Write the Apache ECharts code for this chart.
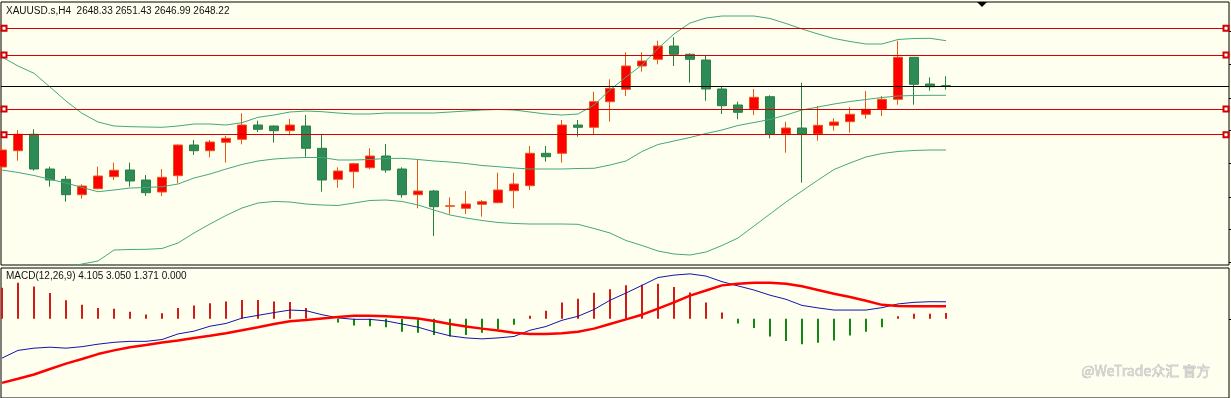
<!DOCTYPE html>
<html>
<head>
<meta charset="utf-8">
<script src="https://cdn.jsdelivr.net/npm/echarts@6/dist/echarts.min.js"></script>
<style>
  html, body { margin: 0; padding: 0; background: #fffff0; }
  #chart { width: 1231px; height: 398px; }
</style>
</head>
<body>
<div id="chart"></div>
<script>
// XAUUSD H4, one bar per 4 hours, oldest first
const openPx = [2621.49, 2626.87, 2632.28, 2620.83, 2617.43, 2612.35, 2614.33, 2618.29, 2620.50, 2617.20,
  2613.24, 2618.62, 2628.75, 2626.87, 2629.64, 2630.63, 2635.35, 2635.02, 2633.47, 2635.02,
  2627.66, 2617.43, 2619.94, 2621.26, 2625.12, 2620.83, 2612.35, 2613.57, 2608.55, 2607.86,
  2609.18, 2609.71, 2613.67, 2615.32, 2626.01, 2626.01, 2635.35, 2634.59, 2643.04, 2647.13,
  2654.82, 2657.03, 2661.42, 2658.68, 2656.80, 2647.23, 2641.95, 2640.53, 2644.69, 2632.38,
  2634.36, 2632.38, 2635.25, 2636.44, 2638.88, 2640.53, 2643.83, 2657.69, 2648.88, 2648.33]
const closePx = [2627.10, 2632.28, 2620.83, 2617.20, 2612.35, 2615.22, 2618.52, 2620.40, 2616.87, 2613.01,
  2618.09, 2628.75, 2626.87, 2629.74, 2630.96, 2635.35, 2633.93, 2633.47, 2635.35, 2627.66,
  2617.20, 2620.17, 2622.58, 2625.12, 2620.50, 2612.35, 2613.57, 2608.39, 2608.69, 2609.28,
  2610.04, 2613.90, 2615.88, 2626.01, 2624.89, 2635.35, 2634.59, 2643.04, 2647.46, 2654.82,
  2656.47, 2661.42, 2658.68, 2657.03, 2647.23, 2641.72, 2639.54, 2644.49, 2632.38, 2634.36,
  2632.38, 2635.25, 2636.34, 2638.88, 2640.53, 2643.83, 2657.69, 2648.78, 2647.99, 2648.22]
const lowPx = [2619.51, 2623.57, 2620.27, 2614.99, 2610.04, 2611.03, 2614.07, 2617.20, 2614.99, 2611.92,
  2611.92, 2616.11, 2625.45, 2624.69, 2622.91, 2628.98, 2633.04, 2629.51, 2631.95, 2624.89,
  2613.34, 2614.66, 2614.46, 2620.73, 2619.61, 2611.36, 2607.86, 2598.72, 2605.98, 2605.98,
  2605.09, 2609.51, 2607.86, 2613.90, 2623.24, 2622.91, 2631.49, 2632.05, 2636.44, 2644.92,
  2652.94, 2655.38, 2654.82, 2649.31, 2643.37, 2638.98, 2637.23, 2638.65, 2630.96, 2626.21,
  2616.31, 2630.17, 2633.47, 2632.81, 2637.43, 2638.32, 2642.05, 2642.05, 2646.67, 2646.99]
const highPx = [2628.75, 2633.70, 2633.93, 2621.59, 2618.52, 2615.78, 2621.59, 2622.91, 2622.91, 2618.85,
  2620.83, 2628.92, 2630.40, 2630.40, 2631.72, 2639.21, 2636.77, 2635.19, 2637.33, 2638.65,
  2632.38, 2621.39, 2622.91, 2627.66, 2629.08, 2621.39, 2624.03, 2613.90, 2611.49, 2613.57,
  2610.60, 2619.61, 2619.61, 2628.42, 2628.42, 2637.00, 2637.00, 2646.34, 2650.43, 2659.34,
  2659.34, 2663.17, 2664.29, 2659.01, 2658.12, 2647.99, 2643.04, 2647.23, 2645.15, 2636.44,
  2649.31, 2641.62, 2637.56, 2641.19, 2646.57, 2644.92, 2663.17, 2657.69, 2651.09, 2651.43]

// bollinger bands
const bbUpper = [2657.79, 2654.82, 2652.41, 2647.89, 2643.27, 2639.21, 2636.34, 2635.02, 2634.79, 2634.69,
  2634.59, 2635.02, 2635.68, 2635.68, 2635.35, 2636.11, 2637.89, 2638.65, 2639.64, 2639.97,
  2639.74, 2639.31, 2638.98, 2638.98, 2639.31, 2639.31, 2639.31, 2639.31, 2639.64, 2639.97,
  2640.30, 2640.47, 2640.30, 2639.64, 2638.98, 2638.65, 2638.98, 2641.95, 2646.90, 2651.19,
  2655.15, 2660.60, 2665.38, 2669.01, 2670.66, 2671.32, 2671.32, 2671.32, 2670.50, 2668.85,
  2667.03, 2665.38, 2663.90, 2662.91, 2662.08, 2662.08, 2663.57, 2663.90, 2663.96, 2663.17]
const bbMiddle = [2620.50, 2619.68, 2618.69, 2617.43, 2616.21, 2614.73, 2613.34, 2613.90, 2614.56, 2614.73,
  2614.99, 2615.88, 2617.86, 2619.18, 2620.83, 2622.32, 2623.47, 2624.13, 2624.46, 2624.63,
  2624.63, 2623.80, 2623.80, 2623.97, 2624.30, 2624.36, 2623.97, 2623.47, 2623.14, 2622.65,
  2621.99, 2621.59, 2621.16, 2620.83, 2620.83, 2620.83, 2621.00, 2621.06, 2622.15, 2623.47,
  2626.61, 2628.92, 2630.07, 2631.23, 2632.55, 2633.70, 2635.19, 2636.18, 2637.17, 2638.65,
  2640.30, 2641.29, 2642.28, 2643.11, 2643.77, 2644.43, 2644.92, 2645.09, 2645.15, 2645.15]
const bbLower = [2583.21, 2584.53, 2585.52, 2586.84, 2588.16, 2589.48, 2590.47, 2594.10, 2594.27, 2594.33,
  2594.60, 2596.41, 2599.71, 2602.68, 2605.49, 2607.96, 2609.61, 2610.11, 2609.94, 2609.28,
  2608.95, 2608.79, 2609.61, 2610.44, 2610.60, 2610.11, 2608.95, 2607.30, 2605.65, 2604.66,
  2603.84, 2603.18, 2602.85, 2602.68, 2602.68, 2602.68, 2602.58, 2601.20, 2599.71, 2597.24,
  2595.59, 2593.77, 2592.78, 2592.45, 2593.44, 2595.59, 2598.06, 2602.02, 2605.98, 2609.94,
  2613.57, 2617.20, 2620.67, 2622.81, 2624.79, 2625.95, 2626.61, 2626.94, 2627.10, 2627.10]

// drawn levels
const redLevels = [2667.26, 2658.45, 2640.63, 2632.15]
const bidLevel = 2648.22
const priceTicks = [2666.37, 2655.48, 2644.26, 2633.70, 2622.81, 2611.59, 2601.03, 2590.14]

// MACD(12,26,9)
const macdMain = [-9.48, -7.62, -7.08, -6.85, -7.08, -6.72, -6.12, -5.67, -5.44, -5.44,
  -5.00, -3.65, -2.98, -1.79, -1.12, 0.16, 0.83, 1.50, 2.11, 1.95,
  0.99, 0.22, -0.13, -0.13, -0.52, -1.25, -2.02, -3.14, -4.10, -4.61,
  -4.84, -4.61, -4.26, -2.76, -1.86, -0.36, 0.61, 2.24, 4.48, 6.21,
  8.06, 9.95, 10.53, 10.84, 10.30, 8.96, 7.93, 6.94, 5.69, 4.70,
  3.23, 2.62, 2.11, 2.11, 2.11, 2.69, 3.58, 3.97, 4.12, 4.105]
const macdSignal = [-15.46, -14.47, -13.44, -12.10, -10.82, -9.70, -8.51, -7.62, -6.85, -6.34,
  -5.73, -5.22, -4.61, -4.10, -3.49, -2.76, -2.02, -1.25, -0.58, -0.29,
  0.09, 0.45, 0.76, 0.76, 0.60, 0.38, 0.09, -0.52, -1.25, -1.86,
  -2.37, -2.82, -3.36, -3.65, -3.65, -3.49, -3.14, -2.37, -1.25, -0.13,
  0.99, 2.46, 3.96, 5.60, 6.81, 8.06, 8.44, 8.67, 8.67, 8.44,
  7.84, 6.94, 6.05, 5.24, 4.35, 3.36, 3.07, 3.05, 3.05, 3.05]
const macdHist = [7.46, 8.67, 7.77, 6.20, 4.48, 3.36, 2.62, 2.40, 1.72, 1.05,
  1.34, 2.62, 3.20, 3.74, 4.19, 4.55, 4.55, 4.19, 4.03, 2.62,
  0, -0.90, -1.64, -1.79, -2.02, -3.14, -3.36, -3.88, -4.26, -3.88,
  -3.36, -2.53, -1.41, 0.74, 1.95, 3.96, 4.86, 6.27, 7.10, 8.06,
  8.22, 8.44, 7.68, 6.34, 3.96, 1.50, -1.12, -2.24, -4.26, -5.38,
  -6.12, -5.76, -5.22, -4.03, -3.14, -2.02, 0.60, 1.19, 1.19, 1.371]

const bg = '#fffff0'
const bandColor = '#45a77c'
const font = 'Liberation Sans'

const myChart = echarts.init(document.getElementById('chart'))

const candleData = openPx.map((o, i) => [i, o, closePx[i], lowPx[i], highPx[i]])
const pair = arr => arr.map((v, i) => [i, v])

const hideAxis = {
  axisLine: { show: false, onZero: false }, axisTick: { show: false },
  axisLabel: { show: false }, splitLine: { show: false }
}

const option = {
  animation: false,
  backgroundColor: bg,
  title: [
    {
      text: 'XAUUSD.s,H4  2648.33 2651.43 2646.99 2648.22',
      left: 6, top: 6, padding: 0,
      textStyle: { fontSize: 10, fontWeight: 'normal', color: '#111', fontFamily: font }
    },
    {
      text: 'MACD(12,26,9) 4.105 3.050 1.371 0.000',
      left: 6, top: 271, padding: 0,
      textStyle: { fontSize: 10, fontWeight: 'normal', color: '#111', fontFamily: font }
    }
  ],
  grid: [
    { left: 1, top: 2, width: 1228, height: 263, show: true, borderColor: '#000', borderWidth: 1, backgroundColor: bg },
    { left: 1, top: 268, width: 1228, height: 140, show: true, borderColor: '#000', borderWidth: 1, backgroundColor: bg }
  ],
  xAxis: [
    Object.assign({ type: 'value', gridIndex: 0, min: -0.0625, max: 76.6875 }, hideAxis),
    Object.assign({ type: 'value', gridIndex: 1, min: -0.0625, max: 76.6875 }, hideAxis)
  ],
  yAxis: [
    {
      type: 'value', gridIndex: 0, position: 'right',
      min: 2589.15, max: 2675.94,
      axisLine: { show: false, onZero: false },
      axisTick: { show: true, inside: false, length: 3, customValues: priceTicks, lineStyle: { color: '#000' } },
      axisLabel: { show: false }, splitLine: { show: false }
    },
    {
      type: 'value', gridIndex: 1, position: 'right',
      min: -19.1, max: 12.25,
      axisLine: { show: false, onZero: false },
      axisTick: { show: true, inside: false, length: 3, customValues: [0], lineStyle: { color: '#000' } },
      axisLabel: { show: false }, splitLine: { show: false }
    }
  ],
  series: [
    {
      name: 'bbUpper', type: 'line', xAxisIndex: 0, yAxisIndex: 0,
      data: pair(bbUpper), symbol: 'none', lineStyle: { color: bandColor, width: 1 }
    },
    {
      name: 'bbMiddle', type: 'line', xAxisIndex: 0, yAxisIndex: 0,
      data: pair(bbMiddle), symbol: 'none', lineStyle: { color: bandColor, width: 1 }
    },
    {
      name: 'bbLower', type: 'line', xAxisIndex: 0, yAxisIndex: 0,
      data: pair(bbLower), symbol: 'none', lineStyle: { color: bandColor, width: 1 }
    },
    {
      name: 'XAUUSD', type: 'candlestick', xAxisIndex: 0, yAxisIndex: 0,
      data: candleData,
      encode: { x: 0, y: [1, 2, 3, 4] },
      barWidth: 10,
      itemStyle: {
        color: '#ff0000', borderColor: '#e8561a',
        color0: '#2e8b57', borderColor0: '#2a8040', borderWidth: 1
      },
      markLine: {
        silent: true, animation: false,
        symbol: ['emptyRect', 'emptyRect'], symbolSize: 5,
        symbolOffset: [[0, 3], [0, 3]],
        label: { show: false },
        lineStyle: { color: '#d40000', width: 1, type: 'solid' },
        data: redLevels.map(v => ({ yAxis: v }))
      }
    },
    {
      name: 'bid', type: 'line', xAxisIndex: 0, yAxisIndex: 0, data: [],
      markLine: {
        silent: true, animation: false, symbol: 'none',
        label: { show: false },
        lineStyle: { color: '#000', width: 1, type: 'solid' },
        data: [{ yAxis: bidLevel }]
      }
    },
    {
      name: 'hist', type: 'bar', xAxisIndex: 1, yAxisIndex: 1,
      data: macdHist.map((v, i) => ({
        value: [i, v],
        itemStyle: { color: v >= 0 ? '#d11a1a' : '#118811' }
      })),
      barWidth: 2
    },
    {
      name: 'macd', type: 'line', xAxisIndex: 1, yAxisIndex: 1,
      data: pair(macdMain), symbol: 'none', lineStyle: { color: '#1414a8', width: 1 }
    },
    {
      name: 'signal', type: 'line', xAxisIndex: 1, yAxisIndex: 1,
      data: pair(macdSignal), symbol: 'none', lineStyle: { color: '#ff0000', width: 2.5 }
    }
  ],
  graphic: [
    {
      type: 'polygon', z: 100,
      shape: { points: [[977, 2], [987, 2], [982, 7]] },
      style: { fill: '#000' }
    },
    {
      type: 'text', z: 100, left: 1081, top: 363,
      style: {
        text: '@WeTrade众汇 官方', fill: '#d6d6d6',
        stroke: '#a0a0a0', lineWidth: 0.4,
        font: '14px "Noto Sans CJK SC"'
      }
    }
  ]
}

myChart.setOption(option)
</script>
</body>
</html>
